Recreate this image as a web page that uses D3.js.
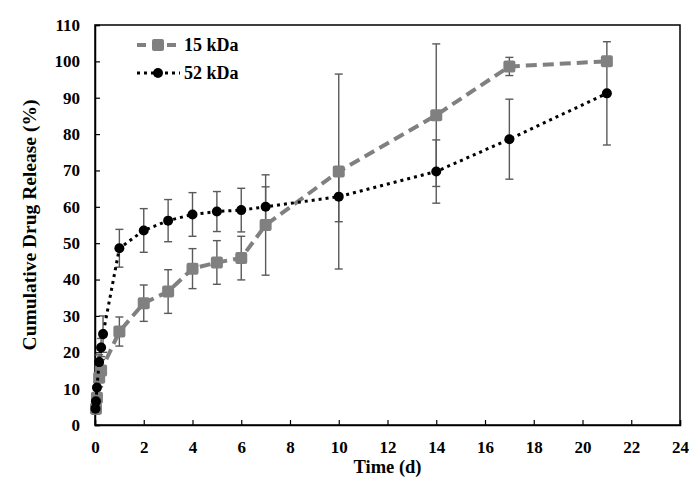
<!DOCTYPE html>
<html><head><meta charset="utf-8">
<script src="https://cdn.jsdelivr.net/npm/d3@7"></script>
<style>body{margin:0;background:#fff}svg{display:block}</style>
</head><body><div id="chart"></div>
<script>
const timeA = [0.04, 0.08, 0.17, 0.25, 1, 2, 3, 4, 5, 6, 7, 10, 14, 17, 21];
const valA  = [4.5, 7.5, 13, 15, 25.7, 33.5, 36.7, 43, 44.7, 45.9, 55, 69.7, 85.2, 98.6, 100];
const errA  = [1.5, 2, 2.5, 3, 4, 5, 6, 5.5, 6, 6, 13.8, 26.8, 19.6, 2.5, 1];
const timeB = [0.02, 0.04, 0.08, 0.17, 0.25, 0.33, 1, 2, 3, 4, 5, 6, 7, 10, 14, 17, 21];
const valB  = [4.5, 6.5, 10.3, 17.3, 21.3, 25, 48.6, 53.5, 56.2, 57.9, 58.7, 59.1, 60, 62.8, 69.7, 78.6, 91.2];
const errB  = [1, 1, 1.5, 2, 2.5, 5, 5.2, 6, 5.8, 6, 5.5, 6, 5.5, 6.9, 8.7, 11, 14.2];
const xTicks = [0,2,4,6,8,10,12,14,16,18,20,22,24];
const yTicks = [0,10,20,30,40,50,60,70,80,90,100,110];
const seriesNames = ["15 kDa", "52 kDa"];

const W = 690, H = 484;
const m = {left:95, right:10, top:25, bottom:59};
const svg = d3.select("#chart").append("svg").attr("width", W).attr("height", H);
const x = d3.scaleLinear().domain([0,24]).range([m.left, W - m.right]);
const y = d3.scaleLinear().domain([0,110]).range([H - m.bottom, m.top]);
const font = "'Liberation Serif','Times New Roman',serif";

svg.append("rect").attr("x", x(0)).attr("y", y(110)).attr("width", x(24)-x(0)).attr("height", y(0)-y(110))
  .attr("fill","none").attr("stroke","#000").attr("stroke-width",1.5);

const xAxis = svg.append("g").attr("transform",`translate(0,${y(0)})`)
  .call(d3.axisBottom(x).tickValues(xTicks).tickSize(-5).tickPadding(16).tickFormat(d3.format("d")));
const yAxis = svg.append("g").attr("transform",`translate(${x(0)},0)`)
  .call(d3.axisLeft(y).tickValues(yTicks).tickSize(-5).tickPadding(15).tickFormat(d3.format("d")));
[xAxis, yAxis].forEach(g => {
  g.select(".domain").attr("stroke","#000").attr("stroke-width",1.5);
  g.selectAll(".tick line").attr("stroke","#000").attr("stroke-width",1.2);
  g.selectAll("text").attr("font-family",font).attr("font-weight","bold").attr("font-size",17).attr("fill","#000");
});

svg.append("text").attr("x",(x(0)+x(24))/2).attr("y",473).attr("text-anchor","middle")
  .attr("font-family",font).attr("font-weight","bold").attr("font-size",18.5).text("Time (d)");
svg.append("text").attr("transform",`translate(36,${(y(0)+y(110))/2}) rotate(-90)`).attr("text-anchor","middle")
  .attr("font-family",font).attr("font-weight","bold").attr("font-size",19.5).text("Cumulative Drug Release (%)");

function errBars(t, v, e) {
  const g = svg.append("g").attr("stroke","#5a5a5a").attr("stroke-width",1.4);
  t.forEach((ti,i) => {
    const cx = x(ti);
    g.append("line").attr("x1",cx).attr("x2",cx).attr("y1",y(v[i]-e[i])).attr("y2",y(v[i]+e[i]));
    [v[i]-e[i], v[i]+e[i]].forEach(yy => g.append("line").attr("x1",cx-4).attr("x2",cx+4).attr("y1",y(yy)).attr("y2",y(yy)));
  });
}
errBars(timeA, valA, errA);
errBars(timeB, valB, errB);

const line = d3.line().x(d=>x(d[0])).y(d=>y(d[1]));
const dA = timeA.map((t,i)=>[t,valA[i]]);
const dB = timeB.map((t,i)=>[t,valB[i]]);

svg.append("path").datum(dA).attr("d",line).attr("fill","none").attr("stroke","#808080")
  .attr("stroke-width",4).attr("stroke-dasharray","11,6");
svg.append("g").selectAll("rect").data(dA).join("rect")
  .attr("x",d=>x(d[0])-6).attr("y",d=>y(d[1])-6).attr("width",12).attr("height",12).attr("rx",2).attr("fill","#808080");

svg.append("path").datum(dB).attr("d",line).attr("fill","none").attr("stroke","#000")
  .attr("stroke-width",3).attr("stroke-dasharray","3,4");
svg.append("g").selectAll("circle").data(dB).join("circle")
  .attr("cx",d=>x(d[0])).attr("cy",d=>y(d[1])).attr("r",5).attr("fill","#000");

const lg = svg.append("g");
lg.append("line").attr("x1",137).attr("x2",180).attr("y1",45).attr("y2",45).attr("stroke","#808080").attr("stroke-width",4).attr("stroke-dasharray","9,6");
lg.append("rect").attr("x",152).attr("y",39).attr("width",12).attr("height",12).attr("rx",2).attr("fill","#808080");
lg.append("text").attr("x",184).attr("y",51).attr("font-family",font).attr("font-weight","bold").attr("font-size",18).text(seriesNames[0]);
lg.append("line").attr("x1",137).attr("x2",180).attr("y1",73).attr("y2",73).attr("stroke","#000").attr("stroke-width",3).attr("stroke-dasharray","3,4");
lg.append("circle").attr("cx",158).attr("cy",73).attr("r",5).attr("fill","#000");
lg.append("text").attr("x",184).attr("y",79).attr("font-family",font).attr("font-weight","bold").attr("font-size",18).text(seriesNames[1]);
</script></body></html>
